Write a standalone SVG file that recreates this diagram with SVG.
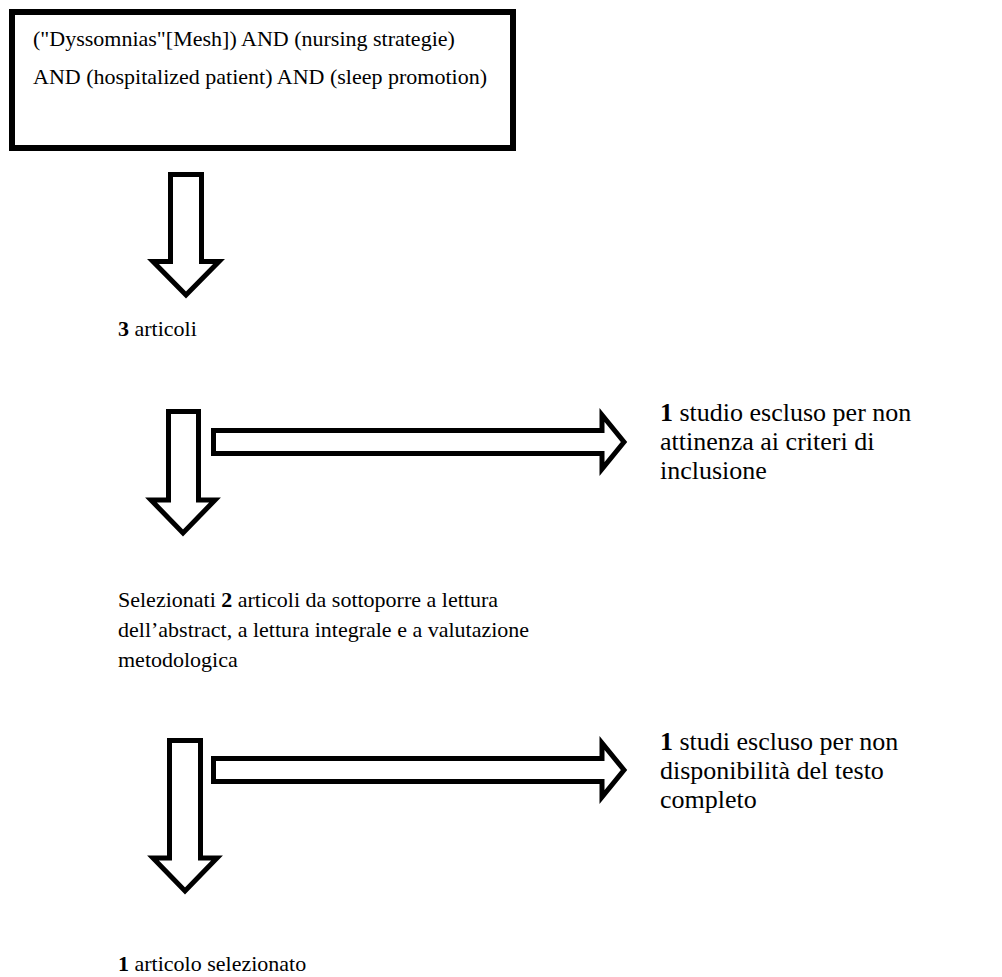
<svg xmlns="http://www.w3.org/2000/svg" width="1002" height="977" viewBox="0 0 1002 977">
<style>
text{font-family:"Liberation Serif","Times New Roman",serif;font-size:22px;fill:#000}
.r{font-size:26px}
.b{font-weight:bold}
.box{fill:#fff;stroke:#000;stroke-width:6}
.arr{fill:#fff;stroke:#000;stroke-width:5;stroke-linejoin:miter}
</style>
<rect width="1002" height="977" fill="#fff"/>
<g id="query">
<rect class="box" x="12" y="12" width="501" height="136"/>
<text x="33" y="46">("Dyssomnias"[Mesh]) AND (nursing strategie)</text>
<text x="33" y="84">AND (hospitalized patient) AND (sleep promotion)</text>
</g>
<g id="n3">
<text x="118" y="336"><tspan class="b">3</tspan> articoli</text>
</g>
<g id="excl1">
<text class="r" x="660" y="421"><tspan class="b">1</tspan> studio escluso per non</text>
<text class="r" x="660" y="450">attinenza ai criteri di</text>
<text class="r" x="660" y="479">inclusione</text>
</g>
<g id="sel2">
<text x="118" y="607">Selezionati <tspan class="b">2</tspan> articoli da sottoporre a lettura</text>
<text x="118" y="637">dell’abstract, a lettura integrale e a valutazione</text>
<text x="118" y="667">metodologica</text>
</g>
<g id="excl2">
<text class="r" x="660" y="750"><tspan class="b">1</tspan> studi escluso per non</text>
<text class="r" x="660" y="779">disponibilità del testo</text>
<text class="r" x="660" y="808">completo</text>
</g>
<g id="final">
<text x="118" y="971"><tspan class="b">1</tspan> articolo selezionato</text>
</g>
<g id="connectors">
<path class="arr" d="M170.5,174.5 H201.5 V261.5 H219 L186,295 L153,261.5 H170.5 Z"/>
<path class="arr" d="M168.5,411.5 H198.5 V500 H215 L183,533 L151,500 H168.5 Z"/>
<path class="arr" d="M213.5,430.5 H602 V415 L624,442 L602,469 V453.5 H213.5 Z"/>
<path class="arr" d="M169.5,740.5 H200.5 V858 H217 L185,891 L153,858 H169.5 Z"/>
<path class="arr" d="M213.5,758.5 H602 V743 L624,770 L602,797 V781.5 H213.5 Z"/>
</g>
</svg>
